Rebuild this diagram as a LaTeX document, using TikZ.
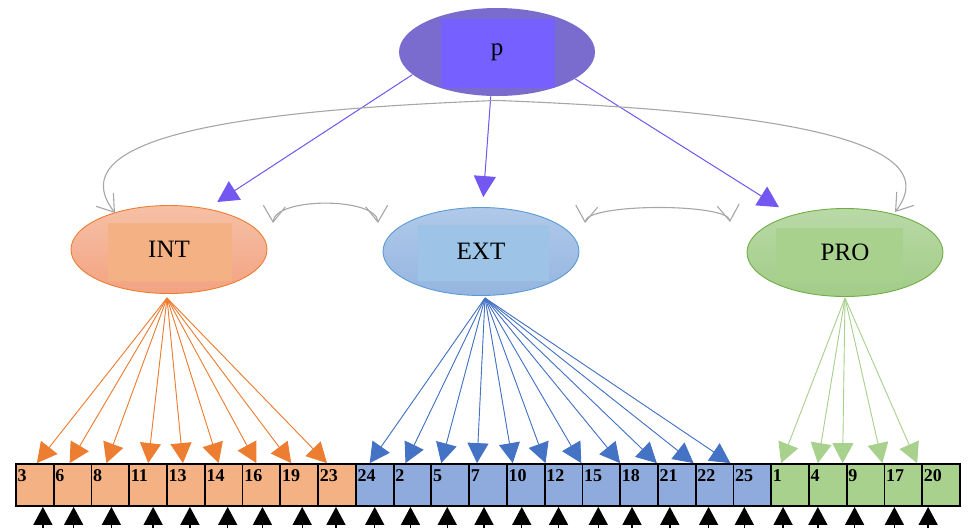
\documentclass[tikz,border=0pt]{standalone}
\usepackage{fontspec}
\setmainfont{Liberation Serif}
\usetikzlibrary{shapes.geometric,arrows.meta}

\definecolor{pOut}{HTML}{7A6BCF}
\definecolor{pIn}{HTML}{7660FF}
\definecolor{pLine}{HTML}{7357F0}
\definecolor{oTop}{HTML}{F6C0A6}
\definecolor{oBot}{HTML}{F3A381}
\definecolor{oIn}{HTML}{F4B183}
\definecolor{oLine}{HTML}{ED7D31}
\definecolor{bTop}{HTML}{B0C9E9}
\definecolor{bBot}{HTML}{95B5E0}
\definecolor{bIn}{HTML}{9DC3E6}
\definecolor{bLine}{HTML}{5B9BD5}
\definecolor{bArr}{HTML}{4472C4}
\definecolor{bBox}{HTML}{8FAADC}
\definecolor{gTop}{HTML}{B9D9A7}
\definecolor{gBot}{HTML}{A2CC87}
\definecolor{gIn}{HTML}{A9D18E}
\definecolor{gLine}{HTML}{70AD47}
\definecolor{covGray}{HTML}{A6A6A6}

\begin{document}
\begin{tikzpicture}[x=1pt,y=-1pt,
  latent/.style={ellipse, minimum width=196pt, minimum height=88pt, inner sep=0pt,
    line width=0.9pt, font=\fontsize{25}{30}\selectfont},
  core/.style n args={3}{path picture={\fill[#1]
      ([shift={#2}]path picture bounding box.center) rectangle
      ([shift={#3}]path picture bounding box.center);}},
  item/.style={draw=black, line width=1.8pt, minimum width=37.76pt, minimum height=42pt,
    inner sep=0pt},
  itemlabel/.style={anchor=base west, inner sep=0pt, font=\bfseries\fontsize{18}{18}\selectfont},
  load/.style={line width=0.9pt, -{Triangle[length=20pt,width=21pt]}},
  gload/.style={line width=1pt, draw=pLine, fill=pLine, -{Triangle[length=21pt,width=22pt]}},
  err/.style={line width=1.4pt, -{Triangle[length=18pt,width=19pt]}},
  barb/.tip={Straight Barb[length=16pt,width=22pt,line width=1.1pt]},
  cov/.style={draw=covGray, line width=1.1pt, barb-barb},
  corr/.style={draw=covGray, line width=1.1pt, -barb}
]
\useasboundingbox (0,0) rectangle (968,528);

% latent factors
\node[latent, fill=pOut, core={pIn}{(-56,-33)}{(58,36)}] (p) at (497,52) {p};
\node[latent, draw=oLine, top color=oTop, bottom color=oBot,
      core={oIn}{(-61,-26.5)}{(63,31.5)}] (INT) at (169,249.5) {INT};
\node[latent, draw=bLine, top color=bTop, bottom color=bBot,
      core={bIn}{(-63,-26.5)}{(68,29.5)}] (EXT) at (481,251.5) {EXT};
\node[latent, draw=gLine, top color=gTop, bottom color=gBot,
      core={gIn}{(-69,-24.5)}{(58,28.5)}] (PRO) at (845,252.5) {PRO};

% general factor loadings
\draw[gload, shorten >=12pt] (p.195) -- (INT.47);
\draw[gload, shorten >=10pt] (p.262) -- (EXT.88);
\draw[gload, shorten >=15pt] (p.341) -- (PRO.145);

% curved paths from p
\coordinate (pb) at ([yshift=-4pt]p.south);
\draw[corr] (pb) .. controls (250,110) and (55,135) .. (115,213);
\draw[corr] (pb) .. controls (744,110) and (955,135) .. (895,212);

% factor covariances
\coordinate (c1) at (273,223);
\coordinate (c2) at (378,223);
\coordinate (c3) at (585,223);
\coordinate (c4) at (730,222);
\draw[cov] (c1) .. controls (275,197) and (376,197) .. (c2);
\draw[cov] (c3) .. controls (587,203) and (728,203) .. (c4);

% origins of the item loadings
\coordinate (INTo) at (167,298);
\coordinate (EXTo) at (485,298);
\coordinate (PROo) at (845,298);

% observed items, loadings and residuals
\foreach \lab/\fac/\bfill/\acol/\toff/\eoff [count=\i from 0] in {
  3/INT/oIn/oLine/2/8, 6/INT/oIn/oLine/-3/1, 8/INT/oIn/oLine/-4/1,
  11/INT/oIn/oLine/0/5, 13/INT/oIn/oLine/-3/4, 14/INT/oIn/oLine/-5/4,
  16/INT/oIn/oLine/-5/1, 19/INT/oIn/oLine/-8/3, 23/INT/oIn/oLine/-10/-1,
  24/EXT/bBox/bArr/-5/0, 2/EXT/bBox/bArr/-7/-2, 5/EXT/bBox/bArr/-9/-3,
  7/EXT/bBox/bArr/-11/-4, 10/EXT/bBox/bArr/-13/-4, 12/EXT/bBox/bArr/-18/-5,
  15/EXT/bBox/bArr/-20/-3, 18/EXT/bBox/bArr/-19/-7, 21/EXT/bBox/bArr/-20/-7,
  22/EXT/bBox/bArr/-21/-6, 25/EXT/bBox/bArr/-22/-8,
  1/PRO/gIn/gIn/-9/-7, 4/PRO/gIn/gIn/-10/-10, 9/PRO/gIn/gIn/-23/-11,
  17/PRO/gIn/gIn/-21/-9, 20/PRO/gIn/gIn/-24/-13}{
  \pgfmathsetmacro\cx{16+37.76*(\i+0.5)}
  \pgfmathsetmacro\lx{16+37.76*\i+1.5}
  \node[item, fill=\bfill] (b\i) at (\cx,485) {};
  \node[itemlabel] (l\i) at (\lx,481.5) {\lab};
  \draw[load, draw=\acol, fill=\acol] (\fac o) -- ([xshift=\toff pt]b\i.north);
  \pgfmathsetmacro\ex{\cx+\eoff}
  \coordinate (e\i) at (\ex,528);
  \draw[err] (e\i) -- (e\i |- b\i.south);
}
\end{tikzpicture}
\end{document}
